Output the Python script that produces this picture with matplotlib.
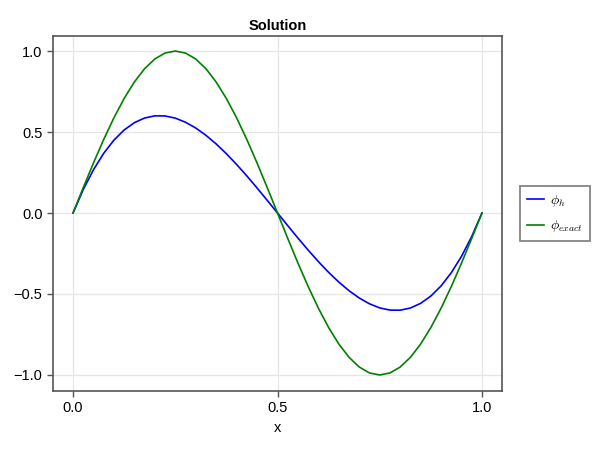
import numpy as np
import matplotlib
matplotlib.use('Agg')
import matplotlib.pyplot as plt

plt.rcParams['font.family'] = ['Liberation Sans', 'DejaVu Sans']
plt.rcParams['mathtext.fontset'] = 'cm'

# values, x step 0.025
x = np.linspace(0.0, 1.0, 41)
phi_h_half = [0.0, 0.1447, 0.2672, 0.3686, 0.45, 0.5127, 0.5578, 0.5865, 0.6,
              0.5994, 0.5859, 0.5607, 0.525, 0.4799, 0.4266, 0.3662, 0.3,
              0.2291, 0.1547, 0.0779, 0.0]
phi_exact_half = [0.0, 0.1564, 0.309, 0.454, 0.5878, 0.7071, 0.809, 0.891, 0.9511,
                  0.9877, 1.0, 0.9877, 0.9511, 0.891, 0.809, 0.7071, 0.5878,
                  0.454, 0.309, 0.1564, 0.0]
phi_h = phi_h_half + [-v for v in phi_h_half[-2::-1]]
phi_exact = phi_exact_half + [-v for v in phi_exact_half[-2::-1]]

xticks = [0.0, 0.5, 1.0]
yticks = [-1.0, -0.5, 0.0, 0.5, 1.0]

fig = plt.figure(figsize=(6, 4.5), dpi=100)
ax = fig.add_axes([0.0883, 0.1311, 0.7484, 0.7889])

ax.plot(x, phi_h, color='#0000ff', lw=1.2, label=r'$\phi_h$')
ax.plot(x, phi_exact, color='#008000', lw=1.2, label=r'$\phi_{exact}$')

ax.set_xlim(-0.049, 1.049)
ax.set_ylim(-1.099, 1.093)
ax.set_xticks(xticks)
ax.set_yticks(yticks)
ax.set_xticklabels([f'{v:.1f}' for v in xticks])
ax.set_yticklabels([f'{v:.1f}'.replace('-', '\u2212') for v in yticks])
ax.tick_params(direction='out', length=4, width=1, color='#555555', labelsize=10.5)
ax.grid(color='#e6e6e6', lw=0.9)
ax.set_axisbelow(True)
for s in ax.spines.values():
    s.set_color('#555555')
    s.set_linewidth(1.2)

ax.set_xlabel('x', fontsize=10.5)
ax.set_title('Solution', fontsize=10.5, fontweight='bold', pad=4)

leg = ax.legend(loc='center left', bbox_to_anchor=(1.04, 0.5), fontsize=10,
                fancybox=False, handlelength=1.25, handletextpad=0.4,
                borderpad=0.5, labelspacing=0.7, borderaxespad=0)
leg.get_frame().set_edgecolor('#666666')
leg.get_frame().set_linewidth(1.3)

plt.savefig('out.png', dpi=100)
